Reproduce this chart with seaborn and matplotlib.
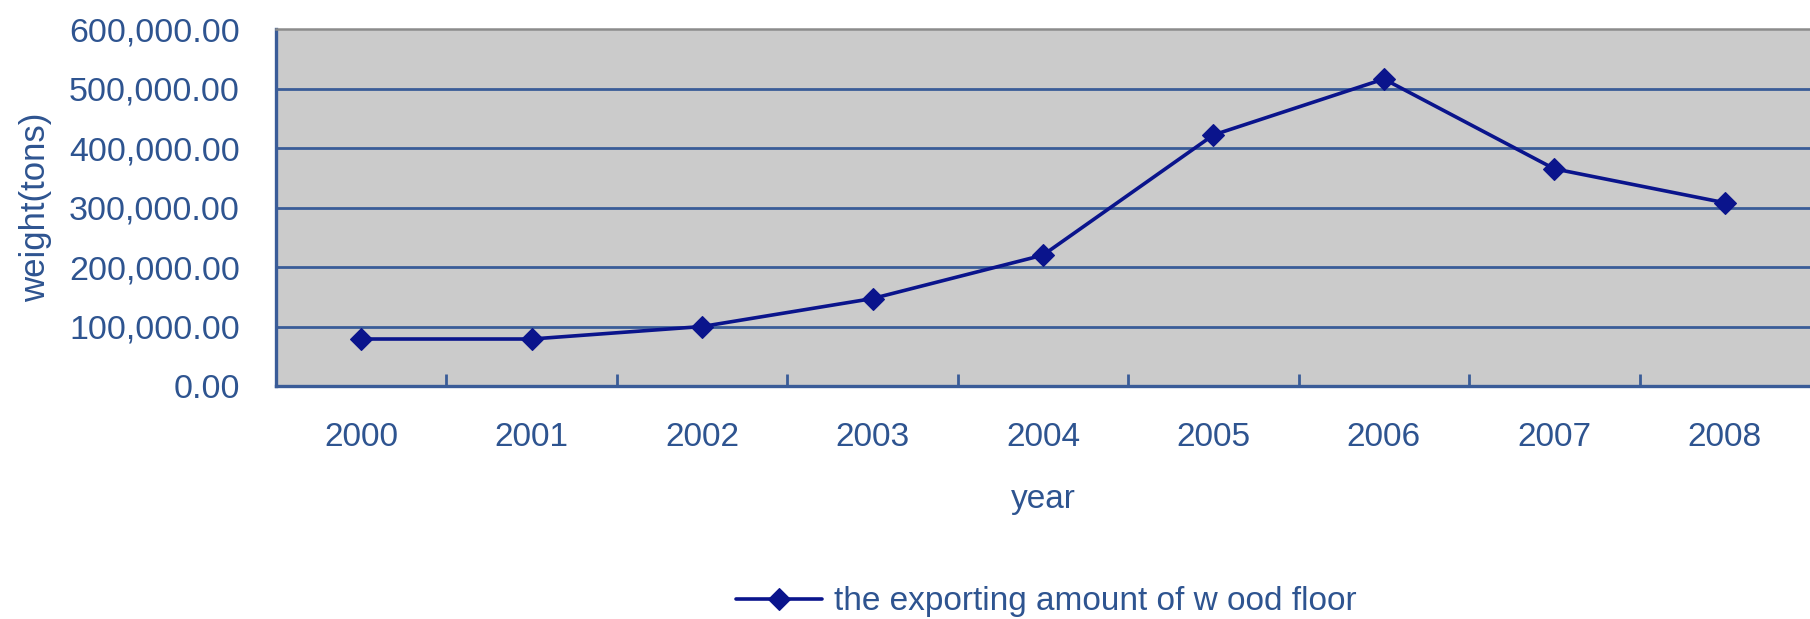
import matplotlib
matplotlib.use("Agg")
import matplotlib.pyplot as plt
from matplotlib.ticker import FuncFormatter, FixedLocator
import seaborn as sns
import pandas as pd

years = ["2000", "2001", "2002", "2003", "2004", "2005", "2006", "2007", "2008"]
export_tons = [79000, 79000, 100000, 147000, 220000, 422000, 516000, 365000, 308000]
series_label = "the exporting amount of w ood floor"
y_ticks = [0, 100000, 200000, 300000, 400000, 500000, 600000]

TEXT = "#2E5490"
AXIS = "#3A5C98"
LINE = "#0A148C"
PANEL = "#CBCBCB"

sns.set_style("white")
plt.rcParams["font.family"] = ["Liberation Sans", "DejaVu Sans"]

df = pd.DataFrame({"pos": range(len(years)), "tons": export_tons})

fig = plt.figure(figsize=(18.10, 6.19), dpi=100)
ax = fig.add_axes([0.1525, 0.3764, 0.8475, 0.5767])
ax.set_facecolor(PANEL)

sns.lineplot(data=df, x="pos", y="tons", ax=ax, color=LINE, linewidth=2.6,
             marker="D", markersize=11, markeredgewidth=0.8,
             markeredgecolor=LINE, markerfacecolor=LINE, label=series_label,
             legend=False, zorder=5)

ax.set_xlim(-0.5, len(years) - 0.5)
ax.set_ylim(0, 600000)

# horizontal gridlines
for v in y_ticks[1:-1]:
    ax.axhline(v, color=AXIS, linewidth=2.0, zorder=1)

ax.set_yticks(y_ticks)
ax.yaxis.set_major_formatter(FuncFormatter(lambda v, p: f"{v:,.2f}"))
ax.tick_params(axis="y", length=0, pad=26, labelsize=24.5, labelcolor=TEXT)

ax.set_xticks(range(len(years)))
ax.set_xticklabels(years)
ax.xaxis.set_minor_locator(FixedLocator([i + 0.5 for i in range(len(years) - 1)]))
ax.tick_params(axis="x", which="major", length=0, pad=26, labelsize=24, labelcolor=TEXT)
ax.tick_params(axis="x", which="minor", direction="in", length=9, width=2.0,
               color=AXIS, bottom=True)

for side in ("left", "bottom"):
    ax.spines[side].set_color(AXIS)
    ax.spines[side].set_linewidth(2.4)
ax.spines["top"].set_color("#8C8C8C")
ax.spines["top"].set_linewidth(1.8)
ax.spines["right"].set_visible(False)

ax.set_xlabel("year", fontsize=24, color=TEXT)
ax.xaxis.set_label_coords(0.5, -0.275)
ax.set_ylabel("weight(tons)", fontsize=25, color=TEXT)
ax.yaxis.set_label_coords(-0.146, 0.5)

handles, labels = ax.get_legend_handles_labels()
fig.legend(handles, labels, loc="center", bbox_to_anchor=(0.578, 0.028),
           frameon=False, fontsize=24, labelcolor=TEXT,
           handlelength=2.6, handletextpad=0.35)

fig.savefig("out.png", dpi=100, facecolor="white")
